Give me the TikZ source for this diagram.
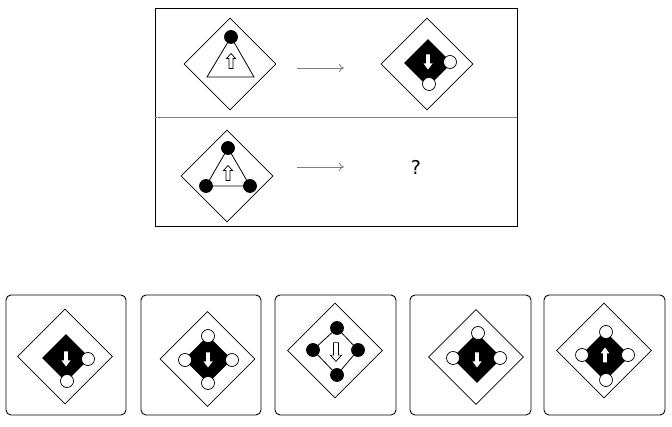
\documentclass[tikz,border=0pt]{standalone}
\usepackage{fontspec}
\setmainfont{DejaVu Sans}
\usetikzlibrary{shapes.geometric,arrows.meta}
\tikzset{
  outerdia/.style={draw,shape=diamond,inner sep=0pt,minimum width=#1,minimum height=#1,line width=0.8pt},
  innerdia/.style={shape=diamond,inner sep=0pt,minimum width=#1,minimum height=#1,fill=black},
  blackdot/.style={draw,circle,fill=black,inner sep=0pt,minimum size=13pt,line width=0.7pt},
  whitedot/.style={draw,circle,fill=white,inner sep=0pt,minimum size=13pt,line width=0.7pt},
  hollowarr/.pic={\path[draw,fill=white,line width=0.7pt] (0,-7.5)--(4.5,-2.5)--(2,-2.5)--(2,7.5)--(-2,7.5)--(-2,-2.5)--(-4.5,-2.5)--cycle;},
  solidarr/.pic={\path[fill=white] (0,-7.5)--(4.5,-1.5)--(1.8,-1.5)--(1.8,7.5)--(-1.8,7.5)--(-1.8,-1.5)--(-4.5,-1.5)--cycle;},
  thinarrow/.style={draw=gray,line width=0.8pt,-{To[length=5pt,width=8pt]}},
  optbox/.style={draw,rounded corners=5pt,line width=0.9pt},
}
\begin{document}
\begin{tikzpicture}[x=1pt,y=-1pt]
\useasboundingbox (0,0) rectangle (672,427);
% top panel
\draw[line width=0.9pt] (155,8) rectangle (517,226);
\coordinate (divL) at (155,117);
\coordinate (divR) at (517,117);
\draw[gray,line width=0.8pt] (divL) -- (divR);

% row 1 left
\node[outerdia=92pt] (r1a) at (230,64) {};
\coordinate (t1a) at (231,37);
\coordinate (t1b) at (207,77);
\coordinate (t1c) at (254,77);
\draw[line width=0.8pt] (t1a) -- (t1b) -- (t1c) -- cycle;
\node[blackdot] (r1dot) at (231,37) {};
\pic at (231,61) {hollowarr};
% arrow row 1
\coordinate (a1s) at (297,68);
\coordinate (a1e) at (344,68);
\draw[thinarrow] (a1s) -- (a1e);
% row 1 right
\node[outerdia=92pt] (r1b) at (427,64) {};
\node[innerdia=48pt] (r1bi) at (428,63) {};
\node[whitedot] (r1bw1) at (450,62) {};
\node[whitedot] (r1bw2) at (429,84) {};
\pic[rotate=180] at (428,62) {solidarr};

% row 2 left
\node[outerdia=92pt] (r2a) at (227,176) {};
\node[blackdot] (r2t) at (228,148) {};
\node[blackdot] (r2l) at (206,186) {};
\node[blackdot] (r2r) at (250,186) {};
\draw[line width=0.8pt] (r2t) -- (r2l) -- (r2r) -- (r2t);
\pic at (228,173) {hollowarr};
% arrow row 2
\coordinate (a2s) at (297,167);
\coordinate (a2e) at (344,167);
\draw[thinarrow] (a2s) -- (a2e);
\node[font=\fontsize{19}{21}\selectfont] (q) at (416,167) {?};

% options
\draw[optbox] (6,295) rectangle (126,415);
\draw[optbox] (141,295) rectangle (261,415);
\draw[optbox] (275,295) rectangle (396,415);
\draw[optbox] (410,295) rectangle (531,415);
\draw[optbox] (544,295) rectangle (665,415);

% option 1
\node[outerdia=95pt] (o1) at (65,356.5) {};
\node[innerdia=48pt] (o1i) at (66,358) {};
\node[whitedot] (o1w1) at (88,359) {};
\node[whitedot] (o1w2) at (67,381) {};
\pic[rotate=180] at (66,359) {solidarr};

% option 2
\node[outerdia=95pt] (o2) at (207.5,359) {};
\node[innerdia=48pt] (o2i) at (208,359.5) {};
\node[whitedot] (o2t) at (208,336) {};
\node[whitedot] (o2l) at (185,360) {};
\node[whitedot] (o2r) at (232,360) {};
\node[whitedot] (o2b) at (208,383) {};
\pic[rotate=180] at (208,360) {solidarr};

% option 3
\node[outerdia=95pt] (o3) at (335,350.5) {};
\node[blackdot] (o3t) at (337,328) {};
\node[blackdot] (o3l) at (313,350) {};
\node[blackdot] (o3r) at (358,350) {};
\node[blackdot] (o3b) at (337,375) {};
\draw[line width=0.8pt] (o3t) -- (o3r) -- (o3b) -- (o3l) -- (o3t);
\pic[rotate=180,scale=1.25] at (336,352) {hollowarr};

% option 4
\node[outerdia=95pt] (o4) at (476,357) {};
\node[innerdia=50pt] (o4i) at (477,358) {};
\node[whitedot] (o4t) at (478,333) {};
\node[whitedot] (o4l) at (453,358) {};
\node[whitedot] (o4r) at (500,358) {};
\pic[rotate=180] at (477,360) {solidarr};

% option 5
\node[outerdia=95pt] (o5) at (604,350.5) {};
\node[innerdia=50pt] (o5i) at (605,356) {};
\node[whitedot] (o5t) at (606,332) {};
\node[whitedot] (o5l) at (582,355) {};
\node[whitedot] (o5r) at (628,355) {};
\node[whitedot] (o5b) at (606,380) {};
\pic at (605,355) {solidarr};
\end{tikzpicture}
\end{document}
